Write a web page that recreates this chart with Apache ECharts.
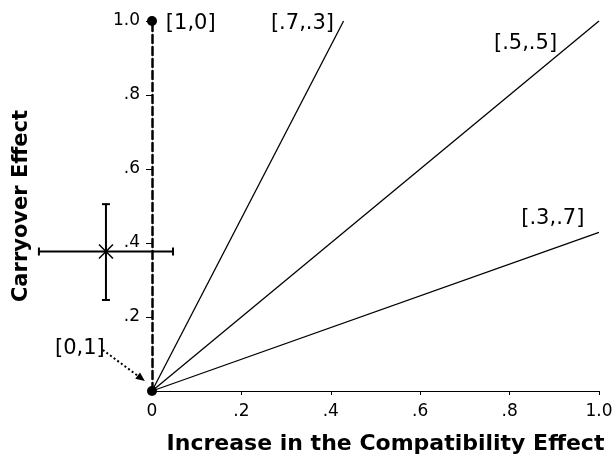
<!DOCTYPE html>
<html>
<head>
<meta charset="utf-8">
<script src="https://cdn.jsdelivr.net/npm/echarts@6/dist/echarts.min.js"></script>
<style>html,body{margin:0;padding:0;background:#fff}#c{width:613px;height:456px}</style>
</head>
<body>
<div id="c"></div>
<script>
// Tick values
const xTicks = [0, 0.2, 0.4, 0.6, 0.8, 1.0];
const yTicks = [0.2, 0.4, 0.6, 0.8, 1.0];
// Weight lines [w1,w2]: carryover = w1/w2 * increase
const ratioLines = [
  { name: '[.7,.3]', pts: [[0, 0], [0.4286, 1.0]] },
  { name: '[.5,.5]', pts: [[0, 0], [1.0, 1.0]] },
  { name: '[.3,.7]', pts: [[0, 0], [1.0, 0.4286]] }
];
// Extreme weights [1,0] and [0,1]
const endPoints = [[0, 0], [0, 1.0]];
// Observed mean with error bars
const obsX = -0.103, obsY = 0.377;
const obsXRange = [-0.253, 0.047];
const obsYRange = [0.246, 0.505];
// Label anchors (left edge, vertical middle)
const labels = [
  { text: '[1,0]', at: [0.031, 0.992] },
  { text: '[.7,.3]', at: [0.266, 0.992] },
  { text: '[.5,.5]', at: [0.765, 0.938] },
  { text: '[.3,.7]', at: [0.826, 0.465] },
  { text: '[0,1]', at: [-0.217, 0.114] }
];
const arrowFrom = [-0.11, 0.111], arrowTo = [-0.016, 0.027];

const fmt = v => (v === 0 ? '0' : (v === 1 ? '1.0' : String(Math.round(v * 10) / 10).replace(/^0/, '')));
const fmtY = v => (yTicks.some(t => Math.abs(t - v) < 1e-9) ? fmt(v) : '');
const FONT = 'DejaVu Sans, sans-serif';

const chart = echarts.init(document.getElementById('c'));
const series = [];
ratioLines.forEach(l => series.push({
  type: 'line', data: l.pts, symbol: 'none', clip: false,
  lineStyle: { color: '#000', width: 1.3 }, z: 3
}));
// dots for [1,0] and [0,1]
series.push({ type: 'scatter', data: endPoints, symbol: 'circle', symbolSize: 10, clip: false,
  itemStyle: { color: '#000', opacity: 1 }, z: 4 });
// observation with error bars
series.push({
  type: 'custom', clip: false, z: 5,
  data: [[obsX, obsY, obsXRange[0], obsXRange[1], obsYRange[0], obsYRange[1]]],
  renderItem: (params, api) => {
    const c = api.coord([api.value(0), api.value(1)]);
    const xl = api.coord([api.value(2), api.value(1)]);
    const xr = api.coord([api.value(3), api.value(1)]);
    const yb = api.coord([api.value(0), api.value(4)]);
    const yt = api.coord([api.value(0), api.value(5)]);
    const st = { stroke: '#000', lineWidth: 2 };
    const cap = 4, m = 7;
    return { type: 'group', children: [
      { type: 'line', shape: { x1: xl[0], y1: xl[1], x2: xr[0], y2: xr[1] }, style: st },
      { type: 'line', shape: { x1: xl[0], y1: xl[1] - cap, x2: xl[0], y2: xl[1] + cap }, style: st },
      { type: 'line', shape: { x1: xr[0], y1: xr[1] - cap, x2: xr[0], y2: xr[1] + cap }, style: st },
      { type: 'line', shape: { x1: yb[0], y1: yb[1], x2: yt[0], y2: yt[1] }, style: st },
      { type: 'line', shape: { x1: yb[0] - cap, y1: yb[1], x2: yb[0] + cap, y2: yb[1] }, style: st },
      { type: 'line', shape: { x1: yt[0] - cap, y1: yt[1], x2: yt[0] + cap, y2: yt[1] }, style: st },
      { type: 'line', shape: { x1: c[0] - m, y1: c[1] - m, x2: c[0] + m, y2: c[1] + m }, style: { stroke: '#000', lineWidth: 1.5 } },
      { type: 'line', shape: { x1: c[0] - m, y1: c[1] + m, x2: c[0] + m, y2: c[1] - m }, style: { stroke: '#000', lineWidth: 1.5 } }
    ]};
  }
});
// dotted arrow from [0,1] label to the origin
series.push({
  type: 'custom', clip: false, z: 5,
  data: [[arrowFrom[0], arrowFrom[1], arrowTo[0], arrowTo[1]]],
  renderItem: (params, api) => {
    const a = api.coord([api.value(0), api.value(1)]);
    const b = api.coord([api.value(2), api.value(3)]);
    const dx = b[0] - a[0], dy = b[1] - a[1];
    const len = Math.sqrt(dx * dx + dy * dy);
    const ux = dx / len, uy = dy / len;
    const hl = 9, hw = 4;
    const bx = b[0] - ux * hl, by = b[1] - uy * hl;
    return { type: 'group', children: [
      { type: 'line', shape: { x1: a[0], y1: a[1], x2: bx, y2: by },
        style: { stroke: '#000', lineWidth: 2, lineDash: [2, 2.5] } },
      { type: 'polygon', shape: { points: [[b[0], b[1]], [bx - uy * hw, by + ux * hw], [bx + uy * hw, by - ux * hw]] },
        style: { fill: '#000' } }
    ]};
  }
});
// text labels
series.push({
  type: 'scatter', symbolSize: 0, clip: false, z: 6,
  itemStyle: { opacity: 1 },
  data: labels.map(l => ({ value: l.at, label: { formatter: l.text } })),
  label: { show: true, position: 'right', distance: 0, color: '#000', opacity: 1, fontSize: 21, fontFamily: FONT }
});

chart.setOption({
  animation: false,
  grid: { left: 152, right: 14, top: 21, bottom: 65, containLabel: false, outerBoundsMode: 'none' },
  xAxis: {
    type: 'value', min: 0, max: 1.0, interval: 0.2,
    axisLine: { show: true, onZero: false, lineStyle: { color: '#000', width: 1.2 } },
    axisTick: { show: true, length: 4, inside: false, lineStyle: { color: '#000' } },
    axisLabel: { formatter: fmt, color: '#000', fontSize: 17, fontFamily: FONT, margin: 12 },
    splitLine: { show: false },
    name: 'Increase in the Compatibility Effect', nameLocation: 'middle', nameGap: 42,
    nameTextStyle: { fontSize: 22, fontWeight: 'bold', fontFamily: FONT, color: '#000', padding: [0, 0, 0, 20] }
  },
  yAxis: {
    type: 'value', min: 0, max: 1.0, interval: 0.2,
    axisLine: { show: true, onZero: false, lineStyle: { color: '#000', width: 2.5, type: [8, 4] } },
    axisTick: { show: true, length: 6, customValues: yTicks, lineStyle: { color: '#000', width: 1, type: 'solid' } },
    axisLabel: { formatter: fmtY, customValues: yTicks, color: '#000', fontSize: 17, fontFamily: FONT, margin: 12 },
    splitLine: { show: false },
    name: 'Carryover Effect', nameLocation: 'middle', nameGap: 120,
    nameTextStyle: { fontSize: 21, fontWeight: 'bold', fontFamily: FONT, color: '#000' }
  },
  series
});
</script>
</body>
</html>
